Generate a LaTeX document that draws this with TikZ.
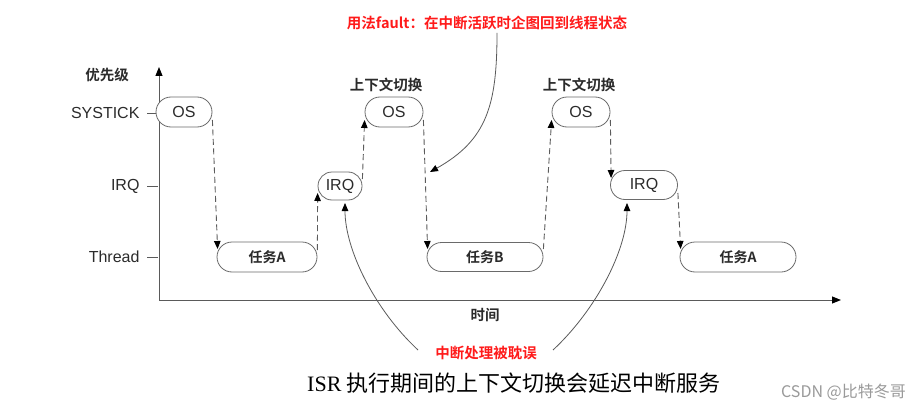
\documentclass[tikz,border=0pt]{standalone}
\usepackage{fontspec}
\setmainfont{Liberation Sans}
\newfontfamily\cjk{Noto Sans CJK SC}
\newfontfamily\cjkbold{Noto Sans CJK SC Bold}
\newfontfamily\serifen{Liberation Serif}
\usetikzlibrary{shapes.misc,arrows.meta,calc}
\definecolor{txt}{HTML}{2B2B2B}
\definecolor{edgegray}{HTML}{6A6A6A}
\definecolor{dashgray}{HTML}{5C5C5C}
\definecolor{axisgray}{HTML}{5A5A5A}
\definecolor{redtxt}{HTML}{FF1A1A}
\definecolor{wmgray}{HTML}{9A9A9A}
\begin{document}
\begin{tikzpicture}[x=1pt,y=-1pt,
  state/.style={rounded rectangle, draw=edgegray, line width=0.8pt, fill=white, inner sep=0pt, minimum height=30pt, text=txt, font=\fontsize{16}{16}\selectfont},
  cnstate/.style={state, font=\cjkbold\fontsize{14}{14}\selectfont},
  lvl/.style={anchor=east, text=txt, font=\fontsize{16}{16}\selectfont},
  cnlabel/.style={text=txt, font=\cjkbold\fontsize{14.5}{15}\selectfont},
  redlabel/.style={text=redtxt, font=\cjkbold\fontsize{14.5}{15}\selectfont},
  tip/.style={-{Triangle[length=8pt,width=6.5pt,color=black]}},
  flowline/.style={draw=dashgray, dash pattern=on 6pt off 3.5pt, line width=0.9pt, tip},
  curveline/.style={draw=axisgray, line width=0.8pt, tip},
  axisline/.style={draw=axisgray, line width=1pt, -{Triangle[length=9pt,width=7pt,color=black]}},
  tickline/.style={draw=axisgray, line width=0.9pt}
]
\useasboundingbox (0,0) rectangle (921,412);
\fill[white] (0,0) rectangle (921,412);

% axes
\coordinate (origin) at (159,300);
\coordinate (ytop) at (159,67);
\coordinate (xend) at (841,300);
\draw[axisline] (origin) -- (ytop);
\draw[axisline] (origin) -- (xend);

% level labels and ticks
\node[cnlabel] (prio) at (107,75) {优先级};
\node[lvl] (lsys) at (143,113) {SYSTICK};
\node[lvl] (lirq) at (143,186) {IRQ};
\node[lvl] (lthr) at (143,257) {Thread};
\coordinate (t1a) at (147,113); \coordinate (t1b) at (158,113);
\coordinate (t2a) at (147,186); \coordinate (t2b) at (158,186);
\coordinate (t3a) at (147,257); \coordinate (t3b) at (158,257);
\draw[tickline] (t1a) -- (t1b);
\draw[tickline] (t2a) -- (t2b);
\draw[tickline] (t3a) -- (t3b);

% states
\node[state, minimum width=56pt] (OS1) at (184,112) {OS};
\node[cnstate, minimum width=100pt] (TA1) at (267,257) {任务A};
\node[state, minimum width=44pt, minimum height=28pt] (IRQ1) at (340,186) {IRQ};
\node[state, minimum width=58pt] (OS2) at (394,112) {OS};
\node[cnstate, minimum width=116pt, minimum height=29pt] (TB) at (485,257) {任务B};
\node[state, minimum width=58pt] (OS3) at (581,112) {OS};
\node[state, minimum width=67pt, minimum height=29pt] (IRQ2) at (644,185) {IRQ};
\node[cnstate, minimum width=116pt] (TA2) at (738,257) {任务A};

\node[cnlabel] (ctx1) at (386,85) {上下文切换};
\node[cnlabel] (ctx2) at (579,85) {上下文切换};

% dashed transitions
\draw[flowline] ($(OS1.east)+(0,8)$) -- ($(TA1.west)+(1,-8)$);
\draw[flowline] ($(TA1.east)+(0,-7)$) -- ($(IRQ1.west)+(0,7)$);
\draw[flowline] ($(IRQ1.east)+(0,-7)$) -- ($(OS2.west)+(0,8)$);
\draw[flowline] ($(OS2.east)+(0,8)$) -- ($(TB.west)+(1,-8)$);
\draw[flowline] ($(TB.east)+(0,-8)$) -- ($(OS3.west)+(0,8)$);
\draw[flowline] ($(OS3.east)+(0,8)$) -- ($(IRQ2.west)+(1,-7)$);
\draw[flowline] ($(IRQ2.east)+(0,8)$) -- ($(TA2.west)+(1,-8)$);

% time label
\node[cnlabel] (time) at (485,315) {时间};

% red note at top
\node[redlabel] (note) at (487,23) {用法fault：在中断活跃时企图回到线程状态};
\coordinate (noteS) at (497,33);
\coordinate (faultpt) at (430,172);
\draw[curveline] (noteS) .. controls (497,105) and (487,140) .. (faultpt);

% delay label and curves
\node[redlabel] (delay) at (486,353) {中断处理被耽误};
\coordinate (dL) at (418,350);
\coordinate (dR) at (553,350);
\coordinate (irq1b) at (345,203);
\coordinate (irq2b) at (627,203);
\draw[curveline] (dL) .. controls (375,310) and (345,250) .. (irq1b);
\draw[curveline] (dR) .. controls (596,310) and (627,250) .. (irq2b);

% caption
\node[anchor=west, text=black, inner sep=0pt] (caption) at (307,383) {\fontsize{22}{22}\selectfont\serifen ISR \cjk 执行期间的上下文切换会延迟中断服务};

% watermark
\node[anchor=east, text=wmgray, inner sep=0pt] (wm) at (906,392) {\cjk\fontsize{16}{16}\selectfont CSDN @比特冬哥};
\end{tikzpicture}
\end{document}
